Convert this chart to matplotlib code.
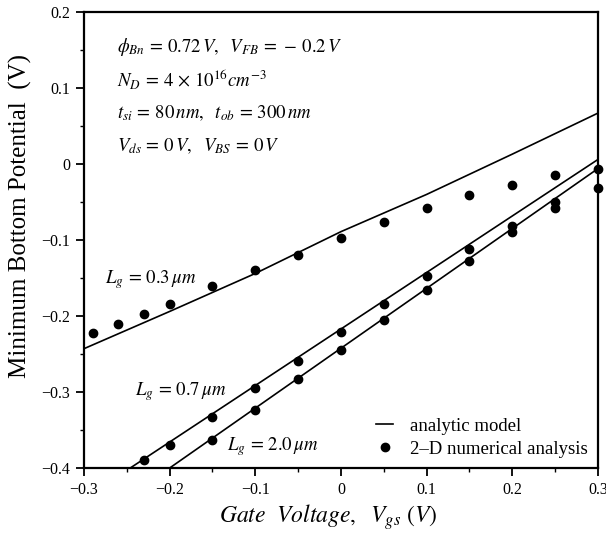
import matplotlib
matplotlib.use('Agg')
from matplotlib import pyplot as plt
from matplotlib.ticker import MultipleLocator

plt.rcParams['font.family'] = ['Liberation Serif', 'DejaVu Serif']
plt.rcParams['mathtext.fontset'] = 'stix'

# 2-D numerical analysis (dots)
vgs_03 = [-0.29, -0.26, -0.23, -0.20, -0.15, -0.10, -0.05, 0.00, 0.05, 0.10, 0.15, 0.20, 0.25, 0.30]
phi_03 = [-0.223, -0.211, -0.197, -0.184, -0.161, -0.139, -0.120, -0.097, -0.076, -0.058, -0.041, -0.027, -0.015, -0.006]

vgs_07 = [-0.23, -0.20, -0.15, -0.10, -0.05, 0.00, 0.05, 0.10, 0.15, 0.20, 0.25]
phi_07 = [-0.390, -0.370, -0.333, -0.295, -0.259, -0.221, -0.184, -0.148, -0.112, -0.081, -0.050]

vgs_20 = [-0.15, -0.10, -0.05, 0.00, 0.05, 0.10, 0.15, 0.20, 0.25, 0.30]
phi_20 = [-0.363, -0.324, -0.283, -0.245, -0.205, -0.166, -0.127, -0.090, -0.058, -0.031]

# analytic model (lines)
model_x_03 = [-0.30, -0.20, -0.10, 0.00, 0.10, 0.20, 0.30]
model_y_03 = [-0.243, -0.194, -0.144, -0.089, -0.040, 0.013, 0.067]
model_x_07 = [-0.246, 0.30]
model_y_07 = [-0.400, 0.006]
model_x_20 = [-0.200, 0.30]
model_y_20 = [-0.400, -0.006]

fig = plt.figure(figsize=(6.06, 5.38), dpi=100)
ax = fig.add_axes([0.1386, 0.1301, 0.8482, 0.8476])

line_kw = dict(color='black', lw=1.2)
dot_kw = dict(color='black', marker='o', ls='none', ms=6)

h_line, = ax.plot(model_x_03, model_y_03, **line_kw)
ax.plot(model_x_07, model_y_07, **line_kw)
ax.plot(model_x_20, model_y_20, **line_kw)
h_dot, = ax.plot(vgs_03, phi_03, clip_on=False, **dot_kw)
ax.plot(vgs_07, phi_07, clip_on=False, **dot_kw)
ax.plot(vgs_20, phi_20, clip_on=False, **dot_kw)

ax.set_xlim(-0.3, 0.3)
ax.set_ylim(-0.4, 0.2)
ax.xaxis.set_major_locator(MultipleLocator(0.1))
ax.xaxis.set_minor_locator(MultipleLocator(0.05))
ax.yaxis.set_major_locator(MultipleLocator(0.1))
ax.yaxis.set_minor_locator(MultipleLocator(0.05))
ax.set_xticklabels(['', '\u22120.3', '\u22120.2', '\u22120.1', '0', '0.1', '0.2', '0.3'])
ax.set_yticklabels(['', '\u22120.4', '\u22120.3', '\u22120.2', '\u22120.1', '0', '0.1', '0.2'])
ax.tick_params(which='major', direction='out', length=6, width=1.3, labelsize=11.5, pad=4)
ax.tick_params(which='minor', direction='out', length=3, width=1.0)
for s in ax.spines.values():
    s.set_linewidth(1.6)

ax.set_xlabel(r'$Gate\ \ Voltage,\ \ V_{gs}\ (V)$', fontsize=17)
ax.xaxis.set_label_coords(0.475, -0.074)
ax.set_ylabel('Minimum Bottom Potential  (V)', fontsize=18)
ax.yaxis.set_label_coords(-0.102, 0.553)

params = [
    r'$\phi_{Bn}\,=\,0.72\,V,\ \ V_{FB}\,=\,-\,0.2\,V$',
    r'$N_D\,=\,4\,\times\,10^{16}cm^{-3}$',
    r'$t_{si}\,=\,80\,nm,\ \ t_{ob}\,=\,300\,nm$',
    r'$V_{ds}\,=\,0\,V,\ \ V_{BS}\,=\,0\,V$',
]
for i, s in enumerate(params):
    ax.text(-0.2615, 0.154 - i * 0.0435, s, fontsize=13.5, va='center', ha='left')

ax.text(-0.2755, -0.1526, r'$L_g\,=\,0.3\,\mu m$', fontsize=13.5, va='center')
ax.text(-0.2405, -0.300, r'$L_g\,=\,0.7\,\mu m$', fontsize=13.5, va='center')
ax.text(-0.1334, -0.372, r'$L_g\,=\,2.0\,\mu m$', fontsize=13.5, va='center')

ax.legend([h_line, h_dot], ['analytic model', '2\u2013D numerical analysis'],
          loc='lower right', frameon=False, fontsize=13.5, handlelength=0.9,
          handletextpad=0.9, borderaxespad=0.15, labelspacing=0.3)

fig.savefig('out.png', dpi=100)
